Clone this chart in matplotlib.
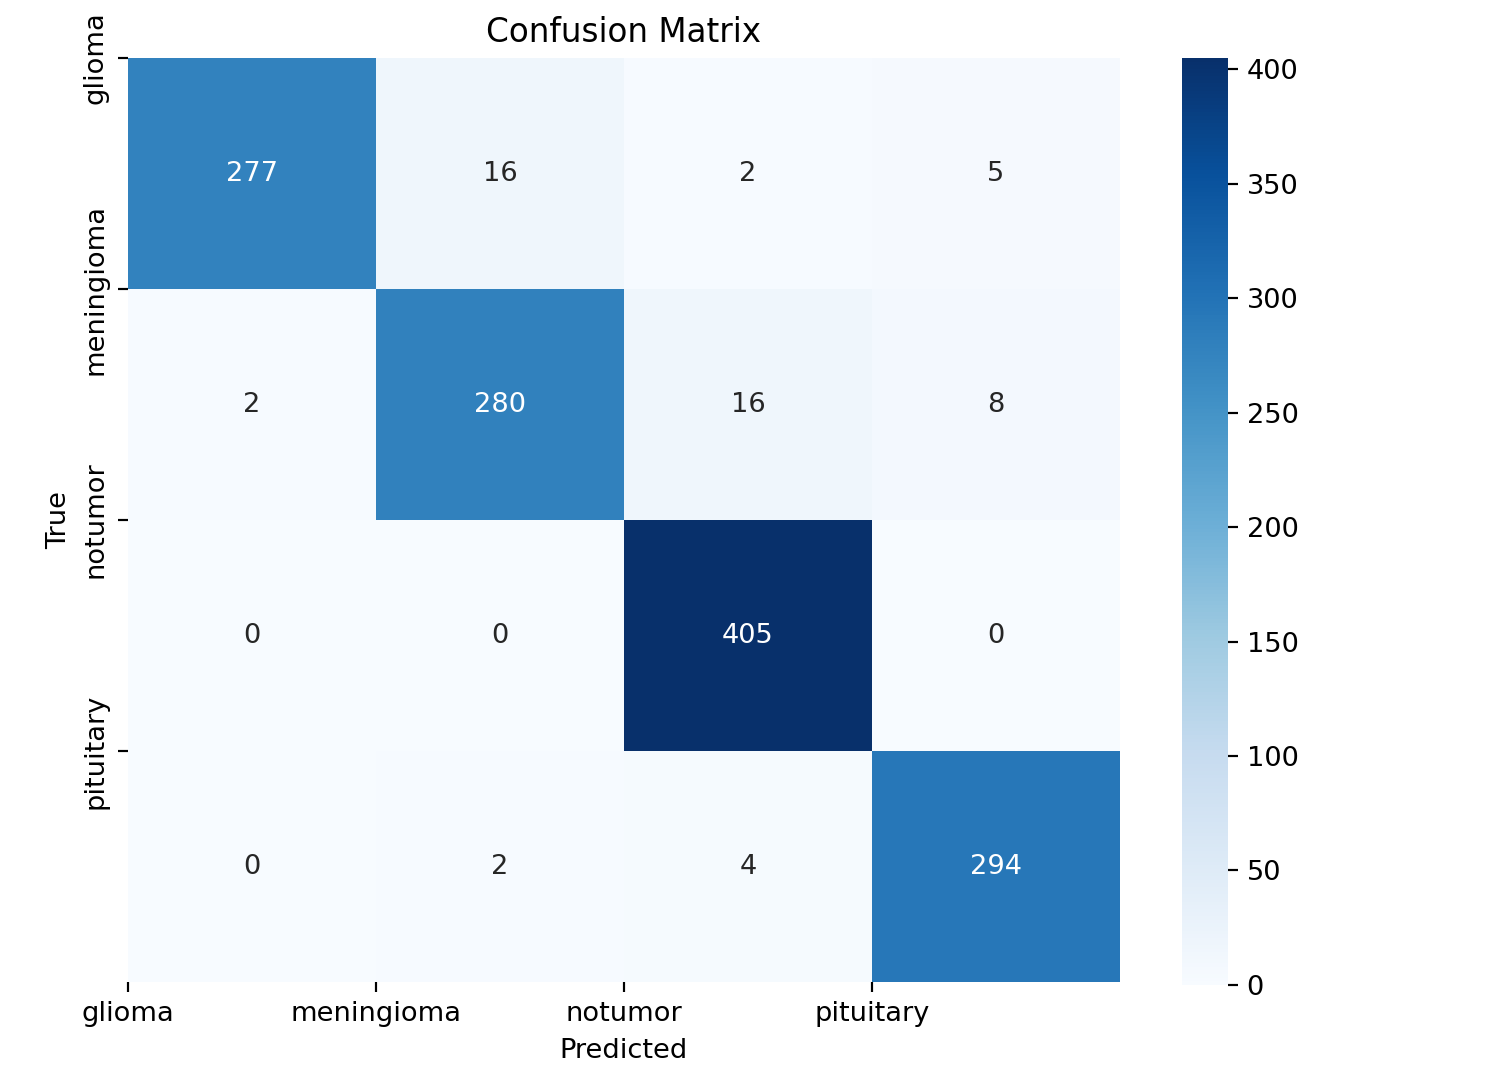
import matplotlib
matplotlib.use("Agg")
import matplotlib.pyplot as plt
import seaborn as sns
import numpy as np

classes = ["glioma", "meningioma", "notumor", "pituitary"]
row_glioma = [277, 16, 2, 5]
row_meningioma = [2, 280, 16, 8]
row_notumor = [0, 0, 405, 0]
row_pituitary = [0, 2, 4, 294]
cm = np.array([row_glioma, row_meningioma, row_notumor, row_pituitary])

DPI = 196
fig = plt.figure(figsize=(1511/DPI, 1087/DPI), dpi=DPI)
ax = fig.add_axes([0.0847, 0.0966, 0.6565, 0.85])
cax = fig.add_axes([0.782, 0.094, 0.0304, 0.8526])
sns.heatmap(cm, annot=True, fmt="d", cmap="Blues", ax=ax, cbar_ax=cax)
ax.set_title("Confusion Matrix")
ax.set_xlabel("Predicted")
ax.set_ylabel("True")
ax.set_xticks(range(len(classes)))
ax.set_xticklabels(classes, rotation=0)
ax.set_yticks(range(len(classes)))
ax.set_yticklabels(classes, rotation=90, va="center")
fig.savefig("out.png", dpi=DPI)
